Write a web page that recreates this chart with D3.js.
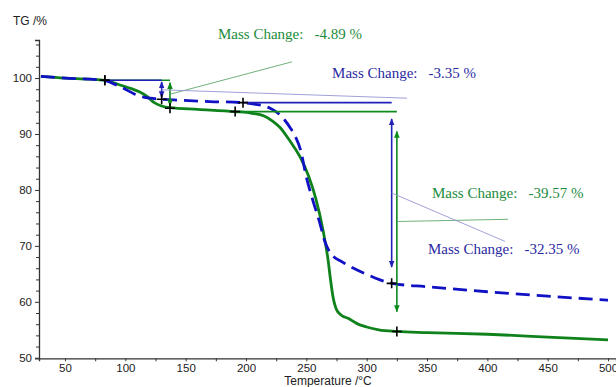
<!DOCTYPE html>
<html>
<head>
<meta charset="utf-8">
<script src="https://cdn.jsdelivr.net/npm/d3@7"></script>
<style>
  body { margin: 0; background: #fff; }
  svg text { font-family: "Liberation Sans", Arial, sans-serif; }
  svg text.note { font-family: "Liberation Serif", "Times New Roman", serif; font-size: 15px; }
</style>
</head>
<body>
<div id="chart"></div>
<script>
// TG curves, temperature (°C) vs mass (%)
const greenCurve = [
  [30,100.3],[50,100.0],[70,99.8],[83,99.6],[95,98.8],[105,98.1],[112,97.5],[118,96.7],
  [124,95.6],[130,95.0],[137,94.7],[160,94.4],[191,94.0],[205,93.7],[215,93.2],[222,92.3],
  [228,91.2],[235,89.2],[240,87.6],[245,85.8],[252,82.4],[258,78.3],[264,72.6],[268,67.5],
  [270,64],[272,61],[275,58.6],[279,57.6],[285,57.0],[292,56.1],[300,55.5],[310,55.0],
  [325,54.7],[350,54.5],[400,54.2],[450,53.7],[500,53.2]
];
const blueCurve = [
  [30,100.3],[50,100.0],[70,99.8],[83,99.6],[90,99.0],[100,98.0],[107,97.2],[115,96.6],
  [125,96.3],[140,96.1],[170,95.8],[197,95.6],[208,95.3],[215,95.0],[220,94.6],[226,93.8],
  [232,92.5],[237,91.0],[241,89.5],[245,87.3],[250,82.3],[255,78.4],[261,74.2],[265.5,70.7],
  [270,68.7],[280,67.1],[290,65.9],[300,64.9],[310,64.0],[321,63.3],[350,62.7],[400,61.8],
  [450,61.0],[500,60.3]
];

// mass change steps: start / end points and the label
const steps = [
  { color: 'green', t0: 83, v0: 99.6, t1: 137, v1: 94.6, label: '-4.89 %', lx: 176.8, ly: 107.0, ex: 238.1, ev: 102.9 },
  { color: 'blue', t0: 83, v0: 99.6, t1: 130.1, v1: 96.2, label: '-3.35 %', lx: 271.3, ly: 100.0, ex: 333.4, ev: 96.4 },
  { color: 'green', t0: 191, v0: 94.0, t1: 325, v1: 54.7, label: '-39.57 %', lx: 354.1, ly: 78.55, ex: 417.1, ev: 74.75 },
  { color: 'blue', t0: 197.5, v0: 95.6, t1: 320.7, v1: 63.3, label: '-32.35 %', lx: 350.8, ly: 68.55, ex: 414.6, ev: 70.8 }
];

const xTicks = [50,100,150,200,250,300,350,400,450,500];
const yTicks = [50,60,70,80,90,100];

const palette = {
  green: { curve: '#0f821c', line: '#0c8a1c', text: '#1d8c3e', leader: '#5fa86e' },
  blue: { curve: '#1010c4', line: '#2020b8', text: '#2a2aa2', leader: '#9595d2' }
};

const width = 616, height = 387;

const x = d3.scaleLinear().domain([28.45, 506.6]).range([39, 616]);
const y = d3.scaleLinear().domain([49.9, 106.8]).range([358.3, 40]);

const svg = d3.select('#chart').append('svg')
  .attr('width', width)
  .attr('height', height);

const defs = svg.append('defs');
['green', 'blue'].forEach(c => {
  defs.append('marker')
    .attr('id', 'arrow-' + c)
    .attr('viewBox', '0 0 10 10')
    .attr('refX', 9).attr('refY', 5)
    .attr('markerWidth', 7).attr('markerHeight', 7)
    .attr('markerUnits', 'userSpaceOnUse')
    .attr('orient', 'auto-start-reverse')
    .append('path')
    .attr('d', 'M0,1 L10,5 L0,9 Z')
    .attr('fill', palette[c].line);
});

// axes
svg.append('g')
  .attr('transform', `translate(0,${y(49.9)})`)
  .call(d3.axisBottom(x).tickValues(xTicks).tickSize(3).tickPadding(3));
svg.append('g')
  .attr('transform', `translate(0,${y(49.9)})`)
  .call(d3.axisBottom(x).tickValues(d3.range(75, 500, 50)).tickSize(3).tickFormat(''))
  .call(g => g.select('.domain').remove());

svg.append('g')
  .attr('transform', `translate(${x(28.45)},0)`)
  .call(d3.axisLeft(y).tickValues(yTicks).tickSize(4).tickPadding(3));
svg.append('g')
  .attr('transform', `translate(${x(28.45)},0)`)
  .call(d3.axisLeft(y).tickValues(d3.range(52, 107, 2).filter(d => d % 10 !== 0)).tickSize(3).tickFormat(''))
  .call(g => g.select('.domain').remove());

svg.selectAll('.domain').attr('stroke', '#333').attr('stroke-width', 1.3);
svg.selectAll('.tick line').attr('stroke', '#333');
svg.selectAll('.tick text').attr('font-size', 11.5).attr('fill', '#222')
  .attr('font-family', '"Liberation Sans", Arial, sans-serif');

svg.append('text')
  .attr('x', 13).attr('y', 25)
  .attr('font-size', 12).attr('fill', '#222')
  .text('TG /%');

svg.append('text')
  .attr('x', 328).attr('y', 385)
  .attr('text-anchor', 'middle')
  .attr('font-size', 12).attr('fill', '#222')
  .text('Temperature /°C');

// curves
const line = d3.line().x(d => x(d[0])).y(d => y(d[1])).curve(d3.curveMonotoneX);

svg.append('path')
  .datum(greenCurve)
  .attr('d', line)
  .attr('fill', 'none')
  .attr('stroke', palette.green.curve)
  .attr('stroke-width', 2.8);

svg.append('path')
  .datum(blueCurve)
  .attr('d', line)
  .attr('fill', 'none')
  .attr('stroke', palette.blue.curve)
  .attr('stroke-width', 2.8)
  .attr('stroke-dasharray', '14,7');

// step annotations
const ann = svg.append('g');
steps.forEach(s => {
  const p = palette[s.color];
  // level line at the start of the step
  ann.append('line')
    .attr('x1', x(s.t0)).attr('x2', x(s.t1))
    .attr('y1', y(s.v0)).attr('y2', y(s.v0))
    .attr('stroke', p.line).attr('stroke-width', 1.6);
  // double arrow, inset a bit from both levels
  const inset = (s.v0 - s.v1) * 0.09;
  ann.append('line')
    .attr('x1', x(s.t1)).attr('x2', x(s.t1))
    .attr('y1', y(s.v0 - inset)).attr('y2', y(s.v1 + inset))
    .attr('stroke', p.line).attr('stroke-width', 1.6)
    .attr('marker-start', `url(#arrow-${s.color})`)
    .attr('marker-end', `url(#arrow-${s.color})`);
  // leader line to the label
  ann.append('line')
    .attr('x1', x(s.t1)).attr('y1', y((s.v0 + s.v1) / 2))
    .attr('x2', x(s.ex)).attr('y2', y(s.ev))
    .attr('stroke', p.leader).attr('stroke-width', 0.9);
  const t = ann.append('text')
    .attr('class', 'note')
    .attr('x', x(s.lx)).attr('y', y(s.ly))
    .attr('fill', p.text);
  t.append('tspan').text('Mass Change:');
  t.append('tspan').attr('dx', 11).text(s.label);
});

// black crosses at start / end of every step
const crosses = [];
steps.forEach(s => { crosses.push([s.t0, s.v0]); crosses.push([s.t1, s.v1]); });
ann.selectAll('path.cross')
  .data(crosses)
  .join('path')
  .attr('class', 'cross')
  .attr('d', d => `M${x(d[0]) - 5},${y(d[1])}H${x(d[0]) + 5}M${x(d[0])},${y(d[1]) - 5}V${y(d[1]) + 5}`)
  .attr('stroke', '#000')
  .attr('stroke-width', 1.6);
</script>
</body>
</html>
